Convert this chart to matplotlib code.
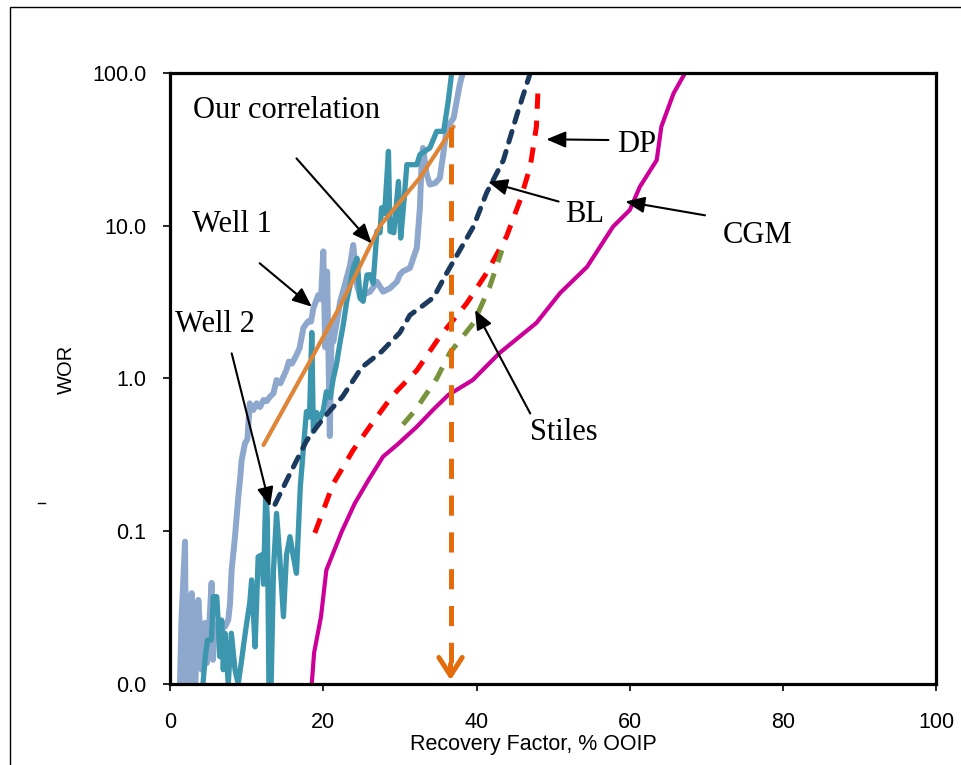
import matplotlib
matplotlib.use("Agg")
import matplotlib.pyplot as plt
from matplotlib.lines import Line2D
from matplotlib.patches import Rectangle
from matplotlib.ticker import NullLocator

plt.rcParams['lines.scale_dashes'] = False
plt.rcParams['font.family'] = ['Liberation Sans', 'DejaVu Sans']

# field data, recovery factor (% OOIP) vs water-oil ratio
w1_rf = [1.3, 1.5, 1.96, 2.1, 2.4, 2.83, 3.1, 3.3, 3.7, 3.9, 4.13, 4.4, 4.57, 4.8, 5.0, 5.43, 5.6, 5.87,
         6.3, 6.5, 6.74, 7.17, 7.6, 7.83, 8.04, 8.48, 8.91, 9.13, 9.35, 9.78, 10.1, 10.4, 10.87, 11.3,
         11.74, 12.2, 12.6, 13.05, 13.5, 13.9, 14.4, 14.8, 15.2, 15.5, 15.9, 16.4, 16.9, 17.4, 18.0, 18.4,
         18.7, 19.35, 19.7, 20.0, 20.25, 20.5, 20.85, 21.1, 21.3, 21.7, 22.2, 22.8, 23.5, 23.9, 24.4, 24.8,
         25.2, 26.1, 27.0, 27.8, 28.7, 29.6, 30.0, 30.4, 31.3, 32.2, 32.6, 32.8, 33.0, 33.5, 33.9, 34.6,
         35.2, 35.7, 36.1, 37.0, 37.4, 37.8, 38.2]
w1_wor = [0.01, 0.0262, 0.0855, 0.01, 0.01, 0.0393, 0.01, 0.01, 0.0355, 0.0237, 0.0124, 0.0237, 0.0251,
          0.0137, 0.0194, 0.0459, 0.0144, 0.0237, 0.025, 0.0194, 0.0237, 0.0237, 0.0262, 0.0337, 0.0557,
          0.0921, 0.168, 0.2165, 0.292, 0.377, 0.40, 0.688, 0.622, 0.688, 0.65, 0.723, 0.71, 0.76, 0.80,
          0.977, 0.93, 1.03, 1.14, 1.29, 1.25, 1.39, 1.58, 2.14, 2.36, 2.36, 2.88, 3.52, 3.3, 6.79, 1.6,
          5.0, 0.42, 2.24, 1.74, 2.24, 3.19, 4.09, 5.53, 7.48, 4.09, 3.43, 3.54, 3.7, 4.3, 3.7, 3.9, 4.3,
          4.8, 5.03, 5.29, 7.15, 13.1, 23.9, 32.3, 21.6, 18.6, 19.0, 20.5, 30.7, 43.6, 50.7, 65.3, 83.9, 100]

w2_rf = [4.3, 4.6, 4.9, 5.4, 5.65, 6.1, 6.3, 6.5, 6.74, 6.95, 7.17, 7.6, 8.0, 8.48, 8.9, 9.35, 9.57, 10.0,
         10.4, 10.65, 11.1, 11.3, 11.5, 11.96, 12.2, 12.5, 12.7, 12.9, 13.2, 13.5, 13.9, 14.3, 14.8, 15.2,
         15.65, 16.1, 16.5, 17.0, 17.4, 17.8, 18.2, 18.5, 18.7, 19.1, 19.6, 20.0, 20.4, 20.9, 21.3, 21.7,
         22.2, 22.6, 23.05, 23.5, 23.9, 24.4, 24.8, 25.2, 25.7, 26.1, 26.5, 27.0, 27.4, 27.6, 28.0, 28.5,
         28.7, 29.2, 29.8, 30.1, 30.5, 30.9, 32.2, 32.6, 33.9, 34.8, 35.7, 36.3, 36.75]
w2_wor = [0.01, 0.0151, 0.0194, 0.0194, 0.0373, 0.0373, 0.025, 0.0151, 0.0262, 0.0124, 0.0215, 0.01,
          0.0215, 0.0124, 0.01, 0.0144, 0.0175, 0.025, 0.0337, 0.048, 0.0175, 0.0337, 0.068, 0.07, 0.045,
          0.186, 0.12, 0.01, 0.01, 0.0557, 0.131, 0.07, 0.0276, 0.07, 0.0921, 0.068, 0.053, 0.195, 0.349,
          0.607, 0.56, 2.0, 0.45, 0.6, 0.55, 0.62, 0.82, 0.75, 1.0, 1.22, 1.74, 2.24, 3.19, 4.09, 5.3,
          6.12, 3.35, 3.2, 4.76, 4.78, 4.2, 9.2, 9.0, 13.1, 12.0, 30.7, 9.2, 9.0, 19.5, 8.3, 14.0, 25.1,
          25.1, 29.2, 32.3, 41.5, 41.5, 65.3, 100]

# model curves
corr_rf = [12.2, 17.6, 22.2, 27.4, 32.6, 37.0]
corr_wor = [0.367, 1.13, 2.98, 10.0, 20.6, 44.6]

bl_rf = [13.7, 15.5, 17.8, 20.0, 22.5, 25.0, 27.6, 30.0, 31.3, 33.0, 34.4, 36.1, 37.8, 39.6, 41.3, 43.5, 45.2, 47.0]
bl_wor = [0.15, 0.23, 0.39, 0.55, 0.76, 1.18, 1.5, 2.0, 2.6, 3.0, 3.4, 4.9, 6.9, 9.9, 16.4, 26.9, 52.0, 100.0]

dp_rf = [18.9, 21.3, 23.9, 26.5, 29.1, 32.2, 35.2, 38.7, 41.3, 43.9, 45.7, 47.0, 47.8, 48.0]
dp_wor = [0.0975, 0.205, 0.34, 0.52, 0.78, 1.13, 1.88, 3.1, 4.9, 8.5, 14.8, 24.4, 44.5, 75.0]

stiles_rf = [30.4, 32.0, 34.8, 36.5, 39.6, 41.7, 43.3]
stiles_wor = [0.50, 0.62, 1.0, 1.47, 2.31, 3.97, 6.9]

cgm_rf = [18.5, 18.8, 19.7, 20.4, 22.4, 24.1, 25.9, 27.8, 29.6, 32.2, 34.3, 36.3, 39.5, 43.0, 47.8, 50.9,
          54.4, 57.8, 60.0, 61.3, 63.5, 64.1, 65.7, 67.2]
cgm_wor = [0.0101, 0.016, 0.0276, 0.0557, 0.0993, 0.152, 0.2165, 0.308, 0.367, 0.483, 0.622, 0.78, 0.977,
           1.47, 2.31, 3.63, 5.37, 9.86, 12.7, 18.0, 26.9, 44.5, 73.6, 100.0]

# recovery
rf_read = 36.6

x_ticks = [0, 20, 40, 60, 80, 100]
y_ticks = [0.01, 0.1, 1, 10, 100]
y_ticklabels = ['0.0', '0.1', '1.0', '10.0', '100.0']

fig = plt.figure(figsize=(9.61, 7.65), dpi=100)
ax = fig.add_axes([0.1769, 0.1059, 0.7976, 0.7987])

ax.plot(w1_rf, w1_wor, color='#8EA7CC', lw=4.3, solid_joinstyle='round', zorder=2)
ax.plot(w2_rf, w2_wor, color='#3B96AE', lw=3.8, solid_joinstyle='round', zorder=2.1)
ax.plot(cgm_rf, cgm_wor, color='#CC0099', lw=3.0, zorder=3)
ax.plot(bl_rf, bl_wor, color='#1B3A5E', lw=3.6, dashes=(8.0, 7.0), dash_capstyle='round', zorder=3)
ax.plot(dp_rf, dp_wor, color='#FF0000', lw=3.6, dashes=(11, 8.5), zorder=3)
ax.plot(stiles_rf, stiles_wor, color='#77933C', lw=3.6, dashes=(11, 8.5), zorder=3.1)
ax.plot(corr_rf, corr_wor, color='#DF8538', lw=3.0, solid_capstyle='round', zorder=4)

# dashed drop from the end of the correlation down to the axis
ax.plot([rf_read, rf_read], [corr_wor[-1], 0.0125], color='#E46C0A', lw=3.6, dashes=(14.5, 12), zorder=5)
ax.annotate('', xy=(rf_read, 0.0106), xytext=(rf_read, 0.0135),
            arrowprops=dict(arrowstyle='->,head_length=0.65,head_width=0.42', lw=3.6,
                            color='#E46C0A', mutation_scale=20, shrinkA=0, shrinkB=0), zorder=5)

ax.set_yscale('log')
ax.set_xlim(0, 100)
ax.set_ylim(0.01, 100)
ax.set_xticks(x_ticks)
ax.set_xticklabels([str(t) for t in x_ticks])
ax.set_yticks(y_ticks)
ax.set_yticklabels(y_ticklabels)
ax.yaxis.set_minor_locator(NullLocator())
ax.tick_params(axis='both', direction='out', length=5, width=1.2, labelsize=15.5, color='black')
ax.tick_params(axis='y', pad=12)
ax.tick_params(axis='x', pad=15)
for s in ax.spines.values():
    s.set_linewidth(2.3)
    s.set_zorder(10)

ax.set_xlabel('Recovery Factor, % OOIP', fontsize=15.5, va='center')
ax.xaxis.set_label_coords(0.4736, -0.0998)
ax.set_ylabel('WOR', fontsize=14.5, va='center')
ax.yaxis.set_label_coords(-0.1357, 0.515)

# curve labels with pointers
serif = dict(family=['Liberation Serif', 'DejaVu Serif'], fontsize=22, va='baseline', ha='left')
ax.text(3.04, 50.8, 'Our correlation', **serif)
ax.text(2.83, 9.15, 'Well 1', **serif)
ax.text(0.65, 2.03, 'Well 2', **serif)
ax.text(58.3, 30.5, 'DP', **serif)
ax.text(51.5, 10.6, 'BL', **serif)
ax.text(72.1, 7.71, 'CGM', **serif)
ax.text(47.0, 0.395, 'Stiles', **serif)

arrow_kw = dict(arrowstyle='-|>,head_length=0.9,head_width=0.38', lw=1.5, color='black',
                mutation_scale=13, shrinkA=0, shrinkB=0)
pointers = [((26.3, 7.67), (16.5, 27.6)),
            ((18.5, 2.95), (11.7, 5.68)),
            ((13.05, 0.145), (8.05, 1.46)),
            ((49.1, 36.8), (57.2, 36.4)),
            ((41.5, 19.4), (50.7, 14.4)),
            ((59.4, 14.4), (69.8, 11.7)),
            ((39.8, 2.81), (47.0, 0.59))]
for tip, tail in pointers:
    ax.annotate('', xy=tip, xytext=tail, arrowprops=arrow_kw, zorder=6)

# thin frame round the whole chart
fig.add_artist(Rectangle((10 / 961, -0.05), 1.2, 1 - 6.7 / 765 + 0.05, transform=fig.transFigure,
                         fill=False, lw=1.0, ec='black', clip_on=False))
fig.add_artist(Line2D([38 / 961, 45 / 961], [1 - 503 / 765] * 2, transform=fig.transFigure,
                      lw=1.0, color='black'))

fig.savefig('out.png', dpi=100)
